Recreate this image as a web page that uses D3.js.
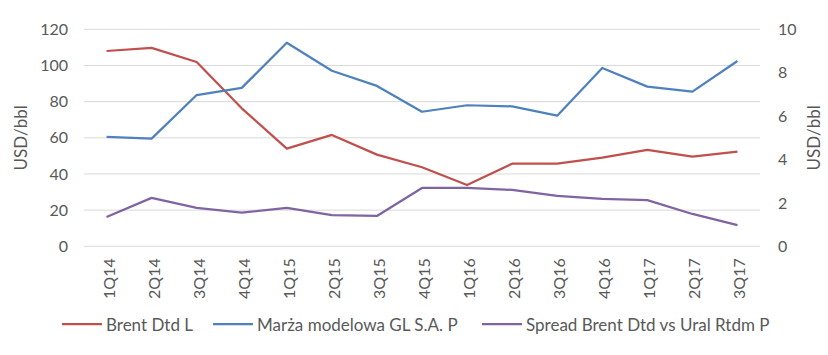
<!DOCTYPE html>
<html><head><meta charset="utf-8">
<script src="https://cdn.jsdelivr.net/npm/d3@7"></script>
<style>body{margin:0;background:#fff}svg{display:block}text{font-family:Lato,"Open Sans",sans-serif;fill:#595959}</style>
</head><body><svg id="c" width="828" height="355"></svg>
<script>
const categories = ["1Q14","2Q14","3Q14","4Q14","1Q15","2Q15","3Q15","4Q15","1Q16","2Q16","3Q16","4Q16","1Q17","2Q17","3Q17"];
const brent = [108.0,109.7,101.9,76.3,54.0,61.6,50.7,43.7,33.9,45.7,45.7,49.0,53.3,49.6,52.3];
const marza = [5.04,4.96,6.97,7.30,9.38,8.09,7.39,6.20,6.50,6.45,6.02,8.22,7.36,7.13,8.54];
const spread = [1.35,2.23,1.77,1.55,1.77,1.44,1.40,2.69,2.69,2.60,2.32,2.18,2.13,1.49,0.98];
const leftTicks = [0,20,40,60,80,100,120];
const rightTicks = [0,2,4,6,8,10];
const seriesNames = ["Brent Dtd L","Marża modelowa GL S.A. P","Spread Brent Dtd vs Ural Rtdm P"];
const colors = ["#C0504D","#4F81BD","#8064A2"];

const svg = d3.select("#c");
const L = 84, R = 760, T = 29.3, B = 246.3;
const x = d3.scaleBand().domain(categories).range([L, R]).padding(0);
const yL = d3.scaleLinear().domain([0,120]).range([B, T]);
const yR = d3.scaleLinear().domain([0,10]).range([B, T]);

// gridlines
svg.append("g").selectAll("line").data(leftTicks).join("line")
  .attr("x1", L).attr("x2", R).attr("y1", d=>yL(d)).attr("y2", d=>yL(d))
  .attr("stroke", "#D9D9D9").attr("stroke-width", 1);

// left axis
const gl = svg.append("g").attr("transform", `translate(${L},0)`)
  .call(d3.axisLeft(yL).tickValues(leftTicks).tickSize(0).tickPadding(16));
gl.select(".domain").remove();
gl.selectAll("text").style("font-size","16px").attr("fill","#595959");

// right axis
const gr = svg.append("g").attr("transform", `translate(${R},0)`)
  .call(d3.axisRight(yR).tickValues(rightTicks).tickSize(0).tickPadding(18));
gr.select(".domain").remove();
gr.selectAll("text").style("font-size","16px").attr("fill","#595959");

// x axis
const gx = svg.append("g").attr("transform", `translate(0,${B})`)
  .call(d3.axisBottom(x).tickSize(0).tickPadding(0));
gx.select(".domain").remove();
gx.selectAll("text").style("font-size","16px").attr("fill","#595959")
  .attr("text-anchor","end").attr("dy", null)
  .attr("transform","translate(1.5,12) rotate(-90)").attr("x",0).attr("y",0).attr("dominant-baseline","central");

// axis titles
svg.append("text").attr("transform", `translate(20,${(T+B)/2}) rotate(-90)`)
  .attr("text-anchor","middle").attr("dominant-baseline","central").style("font-size","17px").text("USD/bbl");
svg.append("text").attr("transform", `translate(813,${(T+B)/2}) rotate(-90)`)
  .attr("text-anchor","middle").attr("dominant-baseline","central").style("font-size","17px").text("USD/bbl");

// lines
const cx = d => x(d) + x.bandwidth()/2;
const data = [
  {vals: brent, y: yL},
  {vals: marza, y: yR},
  {vals: spread, y: yR}
];
data.forEach((s,i)=>{
  const line = d3.line().x((d,j)=>cx(categories[j])).y(d=>s.y(d));
  svg.append("path").datum(s.vals).attr("d", line)
    .attr("fill","none").attr("stroke", colors[i]).attr("stroke-width", 2.25)
    .attr("stroke-linejoin","round");
});

// legend
const legX = [62, 213, 482];
const lg = svg.append("g");
seriesNames.forEach((n,i)=>{
  lg.append("line").attr("x1", legX[i]).attr("x2", legX[i]+40).attr("y1",324).attr("y2",324)
    .attr("stroke", colors[i]).attr("stroke-width", 2.25);
  lg.append("text").attr("x", legX[i]+44).attr("y",324).attr("dominant-baseline","central")
    .style("font-size","17px").text(n);
});
</script></body></html>
